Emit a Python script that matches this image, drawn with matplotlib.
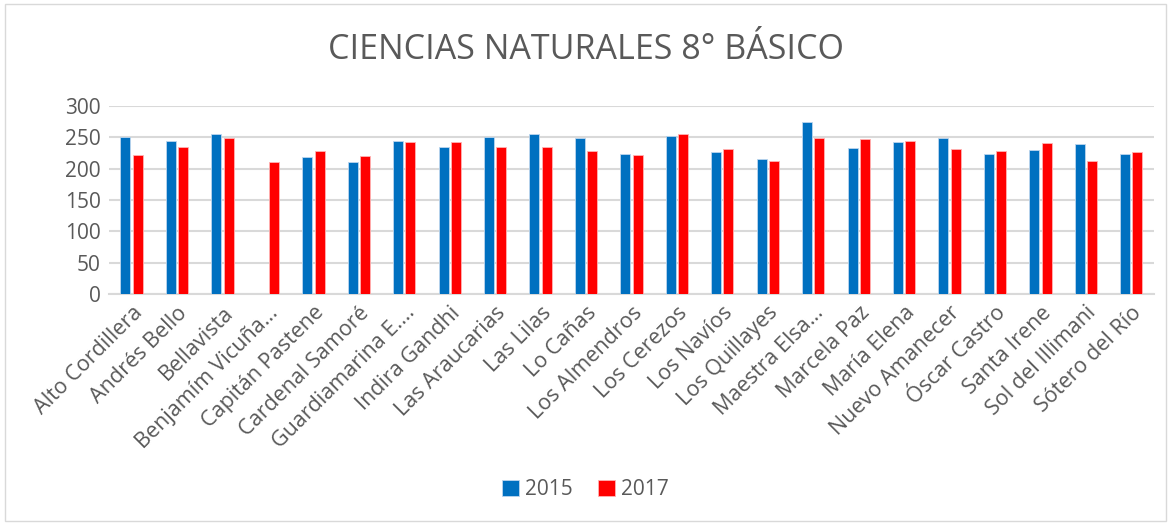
import numpy as np
import matplotlib.pyplot as plt
from matplotlib.patches import Rectangle

plt.rcParams['font.family'] = ['Open Sans', 'DejaVu Sans']

colegios = ['Alto Cordillera', 'Andrés Bello', 'Bellavista', 'Benjamím Vicuña…',
            'Capitán Pastene', 'Cardenal Samoré', 'Guardiamarina E.…', 'Indira Gandhi',
            'Las Araucarias', 'Las Lilas', 'Lo Cañas', 'Los Almendros', 'Los Cerezos',
            'Los Navíos', 'Los Quillayes', 'Maestra Elsa…', 'Marcela Paz', 'María Elena',
            'Nuevo Amanecer', 'Óscar Castro', 'Santa Irene', 'Sol del Illimani',
            'Sótero del Río']
v2015 = [250, 244, 256, np.nan, 218, 211, 244, 234, 251, 255, 249, 224, 252,
         226, 215, 274, 233, 242, 249, 224, 230, 239, 223]
v2017 = [222, 235, 249, 211, 229, 220, 242, 242, 234, 235, 228, 222, 255,
         231, 212, 249, 248, 244, 231, 229, 241, 213, 226]

gris = '#595959'
fig = plt.figure(figsize=(11.71, 5.25), dpi=100)
ax = fig.add_axes([0.093, 0.44, 0.8925, 0.358])

x = np.arange(len(colegios))
w = 0.22
ax.bar(x - 0.135, v2015, w, color='#0070C0', edgecolor='#bcd6ee', linewidth=0.6, label='2015', zorder=3)
ax.bar(x + 0.135, v2017, w, color='#FF0000', edgecolor='#ffb3b3', linewidth=0.6, label='2017', zorder=3)

ax.set_xlim(-0.5, len(colegios) - 0.5)
ax.set_ylim(0, 300)
ax.set_yticks(range(0, 301, 50))
ax.yaxis.grid(True, color='#d9d9d9', linewidth=1.5, zorder=0)
ax.set_axisbelow(True)
for s in ['top', 'right', 'left']:
    ax.spines[s].set_visible(False)
ax.spines['bottom'].set_color('#d9d9d9')
ax.spines['bottom'].set_linewidth(1.5)
ax.tick_params(length=0, labelsize=15, colors=gris, pad=6)
ax.tick_params(axis='x', labelsize=15.5)
ax.set_xticks(x)
ax.set_xticklabels(colegios, rotation=45, ha='right', rotation_mode='anchor')

fig.text(0.5, 0.905, 'CIENCIAS NATURALES 8° BÁSICO', ha='center', va='center',
         fontsize=24.5, color=gris)
fig.legend(loc='center', bbox_to_anchor=(0.5, 0.067), ncol=2, frameon=False,
           fontsize=15, labelcolor=gris, handlelength=0.8, handleheight=0.8,
           handletextpad=0.3, columnspacing=1.2)
fig.patches.append(Rectangle((0.004, 0.008), 0.992, 0.984, transform=fig.transFigure,
                             fill=False, edgecolor='#d9d9d9', linewidth=1))

fig.savefig('out.png', dpi=100)
